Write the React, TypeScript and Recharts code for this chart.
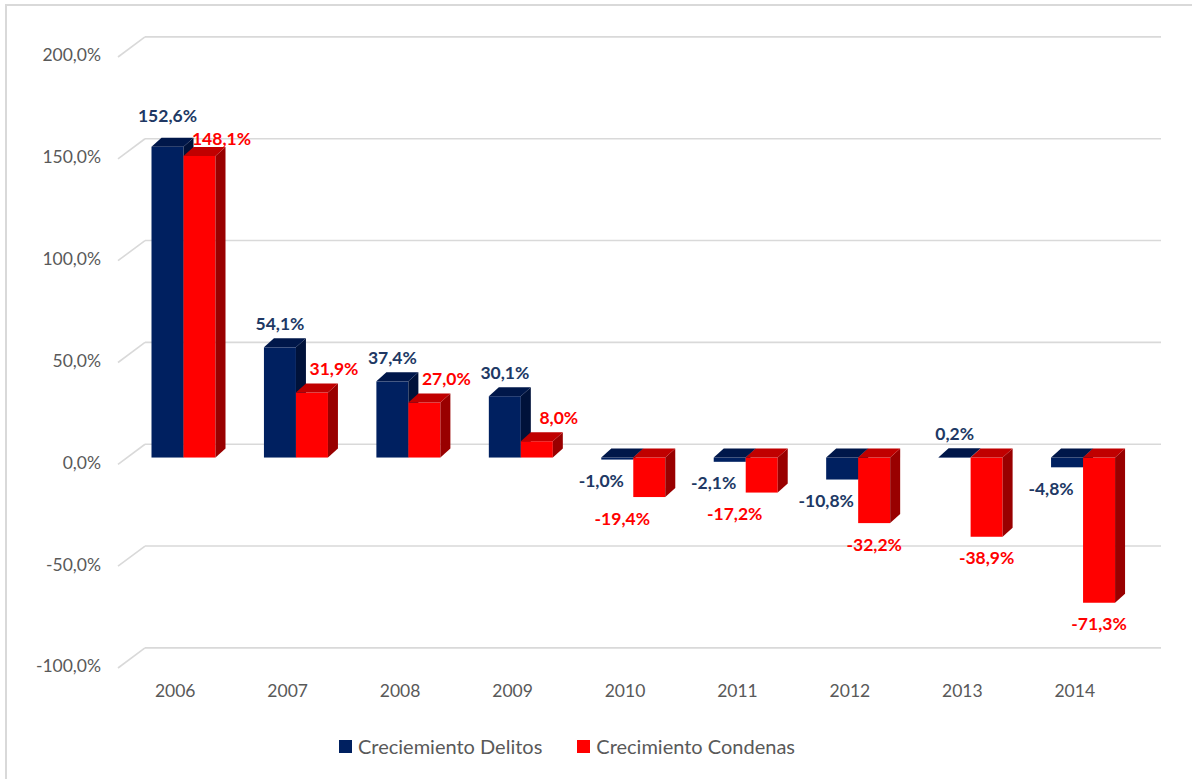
import React from 'react';
import { BarChart, Bar, XAxis, YAxis, CartesianGrid, LabelList, Legend } from 'recharts';

const categories = ['2006', '2007', '2008', '2009', '2010', '2011', '2012', '2013', '2014'];
const delitos = [152.6, 54.1, 37.4, 30.1, -1.0, -2.1, -10.8, 0.2, -4.8];
const condenas = [148.1, 31.9, 27.0, 8.0, -19.4, -17.2, -32.2, -38.9, -71.3];
const yTicks = [-100, -50, 0, 50, 100, 150, 200];
const seriesNames = ['Creciemiento Delitos', 'Crecimiento Condenas'];

const data = categories.map((c, i) => ({ year: c, delitos: delitos[i], condenas: condenas[i] }));

const FONT = 'Lato, "Open Sans", sans-serif';
const GRAY = '#595959';
const BLUE = { front: '#002060', top: '#00174a', side: '#00123a', label: '#203864' };
const RED = { front: '#ff0000', top: '#c00000', side: '#990000', label: '#ff0000' };
const SHIFT = 8.5;
const DX = 10;
const DY = 9;

const fmt = (v: number) => v.toFixed(1).replace('.', ',') + '%';

function makeShape(colors: typeof BLUE) {
  return (props: any) => {
    const { x, y, width, height } = props;
    const top = Math.min(y, y + height);
    const bot = Math.max(y, y + height);
    const xl = x + SHIFT;
    const xr = xl + width;
    return (
      <g>
        <rect x={xl} y={top} width={width} height={Math.max(bot - top, 0.5)} fill={colors.front} />
        <polygon
          points={`${xr},${top} ${xr + DX},${top - DY} ${xr + DX},${bot - DY} ${xr},${bot}`}
          fill={colors.side}
        />
        <polygon
          points={`${xl},${top} ${xl + DX},${top - DY} ${xr + DX},${top - DY} ${xr},${top}`}
          fill={colors.top}
        />
      </g>
    );
  };
}

function makeLabel(colors: typeof BLUE, series: 'delitos' | 'condenas') {
  return (props: any) => {
    const { x, y, width, height, value, index } = props;
    const v = Number(value);
    const top = Math.min(y, y + height);
    const bot = Math.max(y, y + height);
    const cx = x + SHIFT + width / 2;
    let tx = cx;
    let ty = 0;
    if (v >= 0) {
      ty = top - 22;
      if (series === 'condenas') tx = cx + 22;
      // spread apart positive labels of the pair when they would collide
      const other = series === 'delitos' ? condenas[index] : delitos[index];
      if (other > 0 && Math.abs(v) > 0.001) {
        const ratio = (bot - top) / v;
        const zero = bot;
        const myTop = top - 22;
        const otherTop = zero - other * ratio - 22;
        if (Math.abs(myTop - otherTop) < 20) {
          const mid = (myTop + otherTop) / 2;
          ty = series === 'delitos' ? mid - 11.5 : mid + 11.5;
        }
      }
    } else {
      ty = bot + 23;
      if (series === 'delitos') tx = cx - 16;
      else if (v > -25) tx = cx - 27;
    }
    return (
      <text
        x={tx}
        y={ty}
        textAnchor="middle"
        dominantBaseline="middle"
        fill={colors.label}
        fontFamily={FONT}
        fontWeight={700}
        fontSize={17.5}
      >
        {fmt(v)}
      </text>
    );
  };
}

const gridLine = (p: any) => {
  const y = p.y1;
  const x0 = p.x1 - 1;
  return (
    <g key={p.key ?? `g-${p.index}`}>
      <line x1={x0} y1={y + 6.8} x2={x0 + 27} y2={y - 13.3} stroke="#d9d9d9" strokeWidth={1.6} />
      <line x1={x0 + 27} y1={y - 13.3} x2={p.x2 + 30} y2={y - 13.3} stroke="#d9d9d9" strokeWidth={1.6} />
    </g>
  );
};

const YTick = (p: any) => (
  <text
    x={p.x}
    y={p.y + 6.8}
    textAnchor="end"
    dominantBaseline="middle"
    fill={GRAY}
    fontFamily={FONT}
    fontSize={17.5}
  >
    {fmt(Number(p.payload.value))}
  </text>
);

const XTick = (p: any) => (
  <text
    x={p.x}
    y={p.y}
    textAnchor="middle"
    dominantBaseline="middle"
    fill={GRAY}
    fontFamily={FONT}
    fontSize={17.5}
  >
    {p.payload.value}
  </text>
);

const LegendContent = () => (
  <div style={{ display: 'flex', alignItems: 'center', fontFamily: FONT, fontSize: 20, color: GRAY, whiteSpace: 'nowrap' }}>
    <span style={{ display: 'inline-block', width: 13, height: 13, background: BLUE.front, marginRight: 6 }} />
    <span style={{ marginRight: 35 }}>{seriesNames[0]}</span>
    <span style={{ display: 'inline-block', width: 13, height: 13, background: RED.front, marginRight: 6 }} />
    <span>{seriesNames[1]}</span>
  </div>
);

export default function App() {
  return (
    <div style={{ position: 'absolute', left: 0, top: 0, width: 1192, height: 779, overflow: 'hidden', background: '#fff' }}>
      <div
        style={{
          position: 'absolute',
          left: 5,
          top: 4,
          width: 1300,
          height: 900,
          border: '2px solid #d9d9d9',
        }}
      />
      <div style={{ position: 'absolute', left: 0, top: 0 }}>
        <BarChart
          width={1192}
          height={779}
          data={data}
          margin={{ top: 50.2, right: 61, left: 0, bottom: 87.8 }}
          barGap={0}
          barCategoryGap={0}
        >
          <CartesianGrid vertical={false} horizontal={gridLine} />
          <XAxis
            dataKey="year"
            height={30}
            axisLine={false}
            tickLine={false}
            tickSize={0}
            tickMargin={31.5}
            tick={<XTick />}
            interval={0}
          />
          <YAxis
            width={119}
            domain={[-100, 200]}
            ticks={yTicks}
            allowDataOverflow
            axisLine={false}
            tickLine={false}
            tickSize={0}
            tickMargin={18}
            tick={<YTick />}
          />
          <Legend
            layout="horizontal"
            verticalAlign="middle"
            align="center"
            wrapperStyle={{ top: 734, left: 339, width: 'auto' }}
            content={<LegendContent />}
          />
          <Bar dataKey="delitos" name={seriesNames[0]} barSize={32} fill={BLUE.front} shape={makeShape(BLUE)} isAnimationActive={false}>
            <LabelList dataKey="delitos" content={makeLabel(BLUE, 'delitos')} />
          </Bar>
          <Bar dataKey="condenas" name={seriesNames[1]} barSize={32} fill={RED.front} shape={makeShape(RED)} isAnimationActive={false}>
            <LabelList dataKey="condenas" content={makeLabel(RED, 'condenas')} />
          </Bar>
        </BarChart>
      </div>
    </div>
  );
}
